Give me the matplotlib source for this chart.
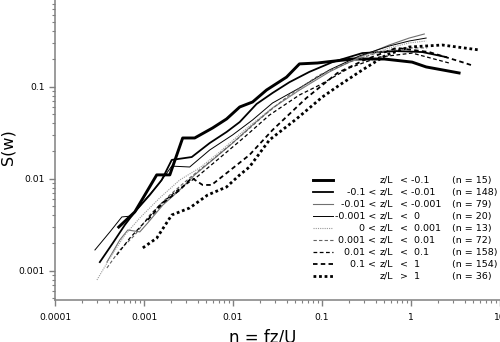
import matplotlib
matplotlib.use("Agg")
import matplotlib.pyplot as plt
from matplotlib.ticker import FixedLocator, FuncFormatter, LogLocator, NullFormatter

plt.rcParams['font.family'] = ['DejaVu Sans']

# spectra per stability class
x_a = [5.2e-4, 7.88e-4, 1.39e-3, 1.95e-3, 2.72e-3, 3.71e-3, 5.90e-3, 8.47e-3, 1.19e-2, 1.66e-2,
       2.38e-2, 3.99e-2, 5.58e-2, 8.87e-2, 0.219, 0.501, 1.03, 1.48, 3.47]
y_a = [0.00298, 0.00435, 0.0110, 0.0110, 0.0277, 0.0277, 0.0356, 0.0446, 0.0602, 0.0682,
       0.0920, 0.127, 0.177, 0.181, 0.200, 0.200, 0.185, 0.164, 0.141]

x_b = [3.19e-4, 4.47e-4, 6.09e-4, 7.88e-4, 1.16e-3, 1.58e-3, 2.05e-3, 3.44e-3, 5.47e-3, 8.47e-3,
       1.19e-2, 1.84e-2, 2.78e-2, 4.31e-2, 7.22e-2, 0.131, 0.284, 0.683, 1.34, 2.48]
y_b = [0.00124, 0.00200, 0.00314, 0.00435, 0.00665, 0.00968, 0.0160, 0.0172, 0.0244, 0.0322,
       0.0413, 0.0649, 0.0855, 0.112, 0.145, 0.185, 0.232, 0.244, 0.238, 0.210]

x_c = [3.83e-4, 5.35e-4, 6.58e-4, 8.97e-4, 1.10e-3, 1.63e-3, 2.52e-3, 3.71e-3, 5.90e-3, 9.90e-3,
       1.66e-2, 2.78e-2, 5.58e-2, 0.121, 0.263, 0.570, 0.955, 1.41]
y_c = [0.00124, 0.00216, 0.00277, 0.00264, 0.00330, 0.00518, 0.00754, 0.0110, 0.0160, 0.0244,
       0.0384, 0.0587, 0.0920, 0.145, 0.210, 0.284, 0.338, 0.374]

x_d = [2.81e-4, 4.14e-4, 5.64e-4, 7.30e-4, 1.02e-3, 1.50e-3, 2.05e-3, 3.26e-3, 5.47e-3, 9.90e-3,
       1.66e-2, 2.78e-2, 5.58e-2, 0.121, 0.263, 0.570, 0.955, 1.48]
y_d = [0.00168, 0.00264, 0.00384, 0.00393, 0.00586, 0.00898, 0.0137, 0.0134, 0.0205, 0.0299,
       0.0435, 0.0665, 0.0968, 0.152, 0.216, 0.277, 0.314, 0.338]

x_e = [2.96e-4, 4.14e-4, 6.09e-4, 8.97e-4, 1.50e-3, 2.52e-3, 4.22e-3, 7.08e-3, 1.35e-2, 2.57e-2,
       5.58e-2, 0.121, 0.263, 0.570, 0.955, 1.48]
y_e = [0.000793, 0.00137, 0.00244, 0.00374, 0.00617, 0.00968, 0.0131, 0.0195, 0.0338, 0.0558,
       0.0920, 0.148, 0.205, 0.264, 0.299, 0.314]

x_f = [3.83e-4, 5.35e-4, 7.88e-4, 1.16e-3, 1.95e-3, 3.26e-3, 6.22e-3, 1.19e-2, 2.26e-2, 4.31e-2,
       9.35e-2, 0.203, 0.440, 0.839, 1.52]
y_f = [0.00107, 0.00168, 0.00244, 0.00403, 0.00665, 0.0102, 0.0168, 0.0284, 0.0492, 0.0813,
       0.134, 0.185, 0.238, 0.264, 0.264]

x_g = [4.95e-4, 6.93e-4, 1.02e-3, 1.50e-3, 2.39e-3, 3.91e-3, 7.08e-3, 1.35e-2, 2.57e-2, 5.58e-2,
       9.35e-2, 0.203, 0.440, 1.03, 2.68]
y_g = [0.00148, 0.00226, 0.00338, 0.00518, 0.00754, 0.0104, 0.0168, 0.0284, 0.0492, 0.0813,
       0.104, 0.160, 0.210, 0.232, 0.181]

x_h = [1.10e-3, 1.63e-3, 2.52e-3, 3.44e-3, 4.56e-3, 5.75e-3, 8.47e-3, 1.53e-2, 2.78e-2, 6.68e-2,
       0.149, 0.299, 0.683, 1.60, 3.75, 4.73]
y_h = [0.00356, 0.00544, 0.00754, 0.0102, 0.00855, 0.00855, 0.0115, 0.0181, 0.0338, 0.0754,
       0.141, 0.195, 0.264, 0.238, 0.185, 0.172]

x_i = [9.70e-4, 1.39e-3, 2.05e-3, 3.26e-3, 5.19e-3, 8.47e-3, 1.19e-2, 1.53e-2, 2.57e-2, 5.16e-2,
       0.101, 0.157, 0.284, 0.527, 0.955, 2.24, 5.82]
y_i = [0.00177, 0.00226, 0.00403, 0.00481, 0.00665, 0.00813, 0.0110, 0.0134, 0.0264, 0.0446,
       0.0773, 0.104, 0.152, 0.221, 0.270, 0.284, 0.251]

cond_left = ["", "-0.1 <", "-0.01 <", "-0.001 <", "0 <", "0.001 <", "0.01 <", "0.1 <", ""]
cond_right = ["< -0.1", "< -0.01", "< -0.001", "<  0", "<  0.001", "<  0.01", "<  0.1", "<  1", ">  1"]
counts = [15, 148, 79, 20, 13, 72, 158, 154, 36]

series = [(x_a, y_a), (x_b, y_b), (x_c, y_c), (x_d, y_d), (x_e, y_e),
          (x_f, y_f), (x_g, y_g), (x_h, y_h), (x_i, y_i)]
styles = [
    dict(color='black', lw=2.1, ls='-'),
    dict(color='black', lw=1.3, ls='-'),
    dict(color='#707070', lw=0.8, ls='-'),
    dict(color='black', lw=0.7, ls='-'),
    dict(color='#9a9a9a', lw=0.8, ls=(0, (1, 1))),
    dict(color='#606060', lw=0.8, ls=(0, (3, 2))),
    dict(color='black', lw=0.9, ls=(0, (3, 2))),
    dict(color='black', lw=1.3, ls=(0, (2.5, 1.8))),
    dict(color='black', lw=2.0, ls=(0, (1, 1))),
]

fig = plt.figure(figsize=(5, 3.42), dpi=100)
ax = fig.add_axes([0.11, 0.1228, 0.89, 0.8772])

for (xs, ys), st in zip(series, styles):
    ax.plot(xs, ys, **st)

ax.set_xscale('log')
ax.set_yscale('log')
ax.set_xlim(1e-4, 10)
ax.set_ylim(0.00048, 0.876)

fmt = FuncFormatter(lambda v, p: '%g' % v)
ax.xaxis.set_major_locator(FixedLocator([1e-4, 1e-3, 1e-2, 1e-1, 1, 10]))
ax.xaxis.set_major_formatter(fmt)
ax.yaxis.set_major_locator(FixedLocator([1e-3, 1e-2, 1e-1]))
ax.yaxis.set_major_formatter(fmt)
for axis in (ax.xaxis, ax.yaxis):
    axis.set_minor_locator(LogLocator(base=10, subs=range(2, 10), numticks=20))
    axis.set_minor_formatter(NullFormatter())

for side in ('top', 'right'):
    ax.spines[side].set_visible(False)
for side in ('left', 'bottom'):
    ax.spines[side].set_color('#808080')
    ax.spines[side].set_linewidth(1.1)
ax.tick_params(which='major', length=4.3, width=1, color='#808080', labelsize=6.6)
ax.tick_params(which='minor', length=2.5, width=0.8, color='#808080')
ax.tick_params(axis='x', which='major', pad=5)
ax.tick_params(axis='y', which='major', pad=3)

ax.set_xlabel('η = fz/U', fontsize=12)
ax.set_ylabel('S(w)', fontsize=11.5)
ax.xaxis.set_label_coords(0.467, -0.095)
ax.yaxis.set_label_coords(-0.088, 0.51)

# legend: sample line + aligned text columns
fs = 6.8
for i, st in enumerate(styles):
    yy = 0.40 - 0.04 * i
    ax.plot([0.580, 0.625], [yy, yy], transform=ax.transAxes, clip_on=False, **st)
    ax.text(0.7213, yy, cond_left[i], transform=ax.transAxes, ha='right', va='center', fontsize=fs)
    ax.text(0.7303, yy, 'z/L', transform=ax.transAxes, ha='left', va='center', fontsize=fs)
    ax.text(0.7753, yy, cond_right[i], transform=ax.transAxes, ha='left', va='center', fontsize=fs)
    ax.text(0.8921, yy, '(n = %d)' % counts[i], transform=ax.transAxes, ha='left', va='center', fontsize=fs)

fig.savefig('out.png', dpi=100)
